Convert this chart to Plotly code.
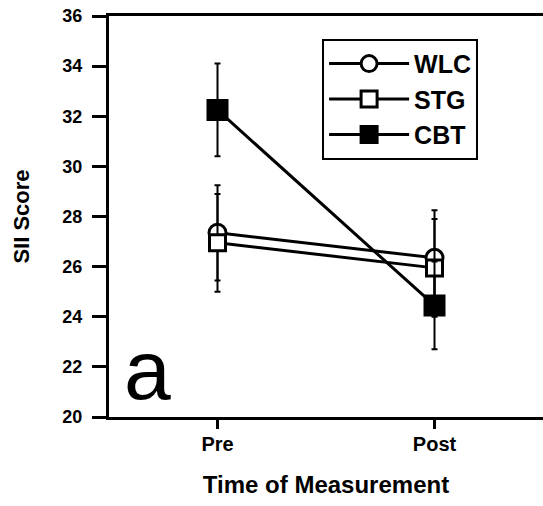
import plotly.graph_objects as go

# ---- data ----
categories = ["Pre", "Post"]
x_pos = [0, 1]
groups = ["WLC", "STG", "CBT"]
wlc_mean = [27.35, 26.35]
wlc_err = [1.9, 1.9]
stg_mean = [26.95, 25.95]
stg_err = [1.95, 1.95]
cbt_mean = [32.25, 24.45]
cbt_err = [1.85, 1.75]
y_ticks = [20, 22, 24, 26, 28, 30, 32, 34, 36]

FONT = "Liberation Sans, Arial, Helvetica, sans-serif"

series = [
    ("WLC", wlc_mean, wlc_err, "circle-open", 17),
    ("STG", stg_mean, stg_err, "square-open", 16),
    ("CBT", cbt_mean, cbt_err, "square", 19),
]

fig = go.Figure()
for name, mean, err, sym, sz in series:
    filled = not sym.endswith("open")
    fig.add_trace(go.Scatter(
        x=x_pos, y=mean, name=name, mode="lines+markers",
        line=dict(color="black", width=3),
        marker=dict(symbol="square" if filled else sym.replace("-open", ""),
                    size=sz,
                    color="black" if filled else "white",
                    line=dict(color="black", width=3)),
        error_y=dict(type="data", array=err, visible=True,
                     color="black", thickness=2, width=3),
    ))

fig.update_layout(
    width=543, height=506,
    margin=dict(l=109, r=0, t=16, b=89),
    paper_bgcolor="white", plot_bgcolor="white",
    font=dict(family=FONT, color="black"),
    showlegend=True,
    legend=dict(
        x=0.491, y=0.943, xanchor="left", yanchor="top",
        bordercolor="black", borderwidth=2, bgcolor="white",
        font=dict(family=FONT, size=25, weight="bold", color="black"),
        itemwidth=80,
        entrywidth=170, entrywidthmode="pixels",
    ),
    xaxis=dict(
        range=[-0.5, 1.5], tickmode="array", tickvals=x_pos, ticktext=categories,
        showline=True, linecolor="black", linewidth=3, mirror=True,
        ticks="outside", ticklen=9, tickwidth=3, tickcolor="black",
        showgrid=False, zeroline=False,
        tickfont=dict(family=FONT, size=20, weight="bold"),
        ticklabelstandoff=-2,
        title=dict(text="Time of Measurement", standoff=23,
                   font=dict(family=FONT, size=24, weight="bold")),
    ),
    yaxis=dict(
        range=[20, 36], tickmode="array", tickvals=y_ticks,
        ticktext=[str(v) for v in y_ticks],
        showline=True, linecolor="black", linewidth=3,
        ticks="outside", ticklen=14, tickwidth=3, tickcolor="black",
        showgrid=False, zeroline=False,
        tickfont=dict(family=FONT, size=18, weight="bold"),
        ticklabelstandoff=6,
        title=dict(text="SII Score", standoff=27,
                   font=dict(family=FONT, size=22, weight="bold")),
    ),
    annotations=[dict(
        text="a", xref="paper", yref="paper", x=0.0876, y=-0.005,
        xanchor="center", yanchor="bottom", showarrow=False,
        font=dict(family=FONT, size=84, color="black"),
    )],
)

fig.write_html("out.html")
